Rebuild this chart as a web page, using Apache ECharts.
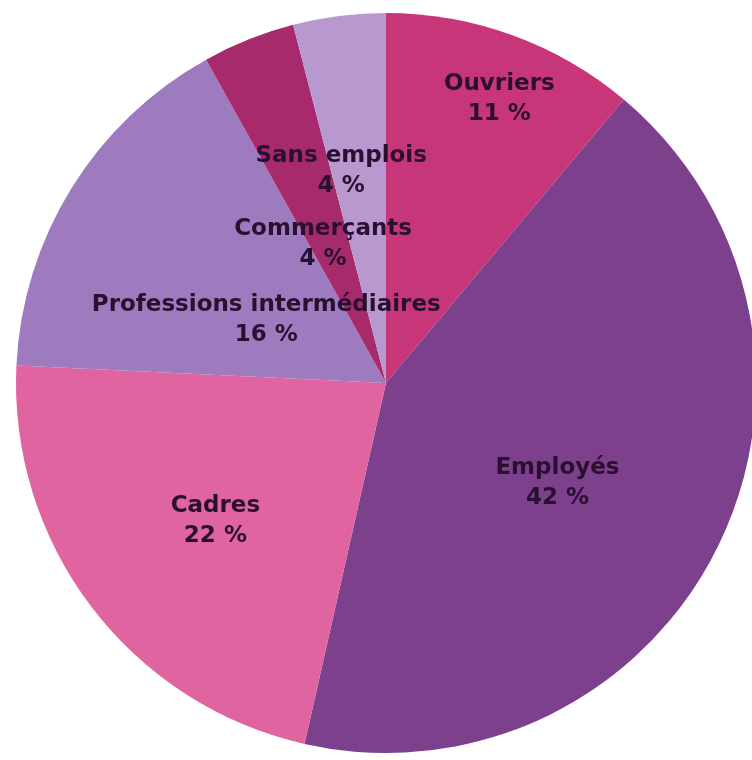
<!DOCTYPE html>
<html>
<head>
<meta charset="utf-8">
<script src="https://cdn.jsdelivr.net/npm/echarts@6/dist/echarts.min.js"></script>
<style>
html,body{margin:0;padding:0;background:#fff;}
#chart{width:752px;height:760px;}
</style>
</head>
<body>
<div id="chart"></div>
<script>
const categories = ['Ouvriers', 'Employés', 'Cadres', 'Professions intermédiaires', 'Commerçants', 'Sans emplois'];
const values = [11, 42, 22, 16, 4, 4];

const colors = ['#C8367A', '#7C408C', '#E064A0', '#9E7ABE', '#A72A6C', '#B899CF'];
const labelOffsets = [[49, -107], [3, 17], [-21, 24], [40, 36], [7, 36], [-21, -25]];

const chart = echarts.init(document.getElementById('chart'));
chart.setOption({
  animation: false,
  series: [{
    type: 'pie',
    center: [386, 383],
    radius: 370,
    startAngle: 90,
    clockwise: true,
    avoidLabelOverlap: false,
    labelLine: { show: false },
    label: {
      show: true,
      position: 'inside',
      fontFamily: '"DejaVu Sans", sans-serif',
      fontWeight: 'bold',
      fontSize: 23,
      lineHeight: 30,
      color: '#2a1030',
      formatter: p => p.name + '\n' + p.value + ' %'
    },
    itemStyle: { borderWidth: 0 },
    data: categories.map((c, i) => ({
      name: c,
      value: values[i],
      itemStyle: { color: colors[i] },
      label: { offset: labelOffsets[i] }
    }))
  }]
});
</script>
</body>
</html>
